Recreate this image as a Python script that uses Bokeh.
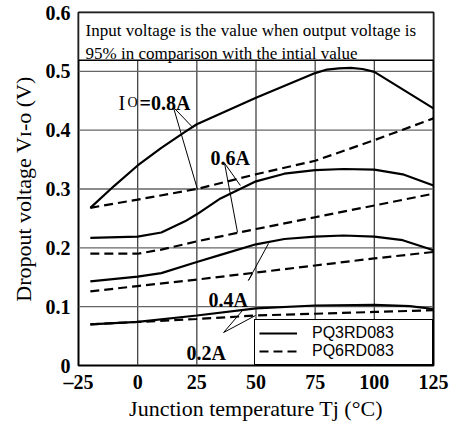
from bokeh.plotting import figure
from bokeh.models import Label, Legend, LegendItem, FixedTicker, Range1d
from bokeh.embed import file_html
from bokeh.resources import INLINE

# ---------------- data ----------------
x_ticks = [-25, 0, 25, 50, 75, 100, 125]
x_tick_labels = ["\u201325", "0", "25", "50", "75", "100", "125"]
y_ticks = [0, 0.1, 0.2, 0.3, 0.4, 0.5, 0.6]
y_tick_labels = ["0", "0.1", "0.2", "0.3", "0.4", "0.5", "0.6"]

# PQ3RD083 (solid)
t_08_s = [-20, -10, 0, 10, 20, 25, 50, 75, 80, 85, 90, 95, 100, 112.5, 125]
v_08_s = [0.268, 0.305, 0.340, 0.370, 0.397, 0.410, 0.455, 0.497, 0.503, 0.505, 0.506, 0.504, 0.499, 0.468, 0.437]
t_06_s = [-20, 0, 10, 20, 25, 35, 50, 62, 75, 87, 100, 112, 125]
v_06_s = [0.217, 0.219, 0.226, 0.245, 0.257, 0.284, 0.313, 0.326, 0.332, 0.334, 0.333, 0.325, 0.306]
t_04_s = [-20, 0, 10, 25, 35, 50, 62, 75, 87, 100, 112, 125]
v_04_s = [0.143, 0.151, 0.157, 0.176, 0.188, 0.206, 0.215, 0.219, 0.221, 0.219, 0.213, 0.196]
t_02_s = [-20, 0, 25, 50, 75, 100, 115, 125]
v_02_s = [0.070, 0.074, 0.085, 0.097, 0.102, 0.103, 0.101, 0.096]

# PQ6RD083 (dashed)
t_08_d = [-20, 0, 25, 50, 75, 100, 125]
v_08_d = [0.268, 0.282, 0.300, 0.325, 0.348, 0.383, 0.420]
t_06_d = [-20, 0, 10, 25, 50, 75, 100, 125]
v_06_d = [0.190, 0.190, 0.197, 0.211, 0.232, 0.252, 0.272, 0.292]
t_04_d = [-20, 0, 25, 50, 75, 100, 125]
v_04_d = [0.126, 0.135, 0.146, 0.158, 0.170, 0.182, 0.193]
t_02_d = [-20, 0, 25, 50, 75, 100, 125]
v_02_d = [0.070, 0.074, 0.079, 0.085, 0.088, 0.091, 0.094]

series_names = ["PQ3RD083", "PQ6RD083"]
current_labels = ["=0.8A", "0.6A", "0.4A", "0.2A"]
note_lines = ["Input voltage is the value when output voltage is",
              "95% in comparison with the intial value"]
note_box_bottom = 0.519
x_title = "Junction temperature Tj (\u00b0C)"
y_title = "Dropout voltage V\u026a-\u1d0f (V)"

# ---------------- figure ----------------
X0, X1 = x_ticks[0], x_ticks[-1]
Y0, Y1 = y_ticks[0], y_ticks[-1]
p = figure(width=449, height=429, output_backend="svg", toolbar_location=None,
           x_range=Range1d(X0, X1), y_range=Range1d(Y0, Y1),
           min_border_left=78, min_border_right=16, min_border_top=12, min_border_bottom=64)
p.border_fill_color = "white"
p.outline_line_color = "black"
p.outline_line_width = 2
p.grid.visible = False

for ax in (p.xaxis[0], p.yaxis[0]):
    ax.axis_line_color = None
    ax.major_tick_line_color = None
    ax.minor_tick_line_color = None
    ax.major_tick_out = 0
    ax.major_tick_in = 0
    ax.major_label_text_font = "Liberation Serif"
    ax.major_label_text_font_style = "bold"
    ax.major_label_text_font_size = "20px"
    ax.major_label_text_color = "black"
    ax.axis_label_text_font = "Liberation Serif"
    ax.axis_label_text_font_style = "normal"
    ax.axis_label_text_font_size = "22px"
    ax.axis_label_text_color = "black"

p.xaxis.major_label_standoff = 5
p.yaxis.major_label_standoff = 8
p.xaxis.axis_label = x_title
p.yaxis.axis_label = y_title
p.xaxis.axis_label_standoff = 0
p.yaxis.axis_label_standoff = 7

p.xaxis.ticker = FixedTicker(ticks=x_ticks)
p.yaxis.ticker = FixedTicker(ticks=y_ticks)
p.xaxis.major_label_overrides = dict(zip(x_ticks, x_tick_labels))
p.yaxis.major_label_overrides = dict(zip(y_ticks, y_tick_labels))

# grid lines drawn as thin filled rectangles (1.3 px wide) at the tick positions
gx = x_ticks[1:-1]
gy = y_ticks[1:-1]
p.rect(x=gx, y=[(Y0 + Y1) / 2] * len(gx), width=1.3, height=Y1 - Y0,
       width_units="screen", height_units="data",
       fill_color="#444444", fill_alpha=1, line_color=None)
p.rect(x=[(X0 + X1) / 2] * len(gy), y=gy, width=X1 - X0, height=1.3,
       width_units="data", height_units="screen",
       fill_color="#666666", fill_alpha=1, line_color=None)

LW = 2.2
DASH = "9 5"
rs = []
for t, v in [(t_08_s, v_08_s), (t_06_s, v_06_s), (t_04_s, v_04_s), (t_02_s, v_02_s)]:
    rs.append(p.line(t, v, line_color="black", line_width=LW))
rd = []
for t, v in [(t_08_d, v_08_d), (t_06_d, v_06_d), (t_04_d, v_04_d), (t_02_d, v_02_d)]:
    rd.append(p.line(t, v, line_color="black", line_width=LW, line_dash=DASH))

# note box at the top (white, covers the grid)
p.quad(left=[X0], right=[X1], bottom=[note_box_bottom], top=[Y1],
       fill_color="white", fill_alpha=1, line_color="black", line_width=1.5)

# leader lines for current labels
lead_x0 = [15.1, 15.1, 36.7, 36.7, 46.8, 46.8, 36.3, 36.3]
lead_y0 = [0.439, 0.439, 0.344, 0.344, 0.1446, 0.1446, 0.056, 0.056]
lead_x1 = [23.2, 25.3, 43.4, 42.2, 55.3, 48.5, 44.3, 49.8]
lead_y1 = [0.405, 0.299, 0.306, 0.226, 0.2075, 0.156, 0.0935, 0.085]
p.segment(lead_x0, lead_y0, lead_x1, lead_y1, line_color="black", line_width=1)

def lbl(x, y, text, size, bold=False, font="Liberation Serif", align="left"):
    p.add_layout(Label(x=x, y=y, text=text, text_font=font, text_font_size=f"{size}px",
                       text_font_style="bold" if bold else "normal", text_align=align,
                       text_baseline="alphabetic", text_color="black"))

lbl(-22.0, 0.5697, note_lines[0], 17)
lbl(-22.0, 0.5306, note_lines[1], 17)

# current labels
lbl(-8.1, 0.447, "I", 20)
lbl(-4.3, 0.447, "O", 14)
lbl(0.77, 0.447, current_labels[0], 20, bold=True)
lbl(30.8, 0.352, current_labels[1], 20, bold=True)
lbl(29.9, 0.1105, current_labels[2], 20, bold=True)
lbl(20.6, 0.022, current_labels[3], 20, bold=True)

legend = Legend(items=[LegendItem(label=series_names[0], renderers=[rs[0]]),
                       LegendItem(label=series_names[1], renderers=[rd[0]])],
                location="bottom_right", margin=0, padding=4, spacing=-2,
                glyph_width=38, glyph_height=16, label_height=16, label_width=116,
                label_standoff=15,
                label_text_font="Liberation Sans", label_text_font_size="16px",
                label_text_color="black",
                background_fill_color="white", background_fill_alpha=1,
                border_line_color="black", border_line_width=1.5, border_line_alpha=1)
p.add_layout(legend)

open("out.html", "w").write(file_html(p, INLINE))
